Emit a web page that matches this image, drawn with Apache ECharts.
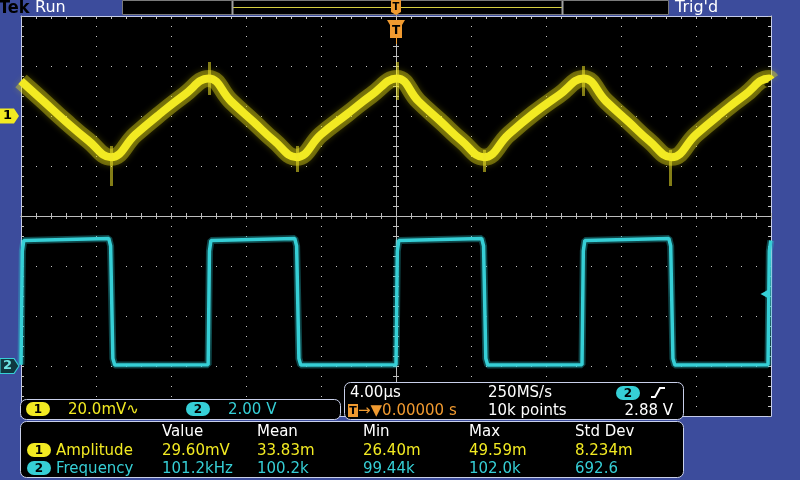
<!DOCTYPE html>
<html><head><meta charset="utf-8">
<script src="https://cdn.jsdelivr.net/npm/echarts/dist/echarts.min.js"></script>
<style>html,body{margin:0;padding:0;background:#3c4c9c;overflow:hidden}#c{width:800px;height:480px}</style>
</head><body><div id="c"></div>
<script>
// ---- data (time in µs, ch1 in mV, ch2 in V) ----
const ch1Time = [-20,-18.8,-17.6,-16.4,-15.2,-13.9,-12.6,-11.3,-10.0,-8.8,-7.6,-6.5,-5.3,-4.0,-2.6,-1.3,0.05,1.2,2.4,3.5,4.7,6.0,7.3,8.7,10.0,11.2,12.4,13.5,14.7,16.0,17.3,18.6,19.9,20];
const ch1mV   = [14.0,5.9,-2.3,-9.9,-16.5,-7.4,0.8,8.4,15.0,5.9,-2.3,-9.9,-16.5,-7.4,0.8,8.4,15.0,5.9,-2.3,-9.9,-16.5,-7.4,0.8,8.4,15.0,5.9,-2.3,-9.9,-16.5,-7.4,0.8,8.4,15.0,14.4];
const spikeTime = [-15.2,-9.95,-5.25,0.05,4.72,10.0,14.65];
const spikeLow  = [-28.0,8.4,-22.4,6.4,-22.4,8.0,-28.0];
const spikeHigh = [-12.0,21.6,-12.0,21.6,-13.6,20.0,-13.6];
const ch2Time  = [-20.00,-19.93,-19.85,-15.32,-15.22,-15.10,-15.00,-10.02,-9.95,-9.87,-5.40,-5.30,-5.18,-5.08,0.00,0.07,0.15,4.57,4.67,4.79,4.89,9.92,9.99,10.07,14.55,14.65,14.77,14.87,19.84,19.91,19.99,20.0];
const ch2Volts = [0.05,4.6,5.02,5.1,4.8,0.3,0.04,0.05,4.6,5.02,5.1,4.8,0.3,0.04,0.05,4.6,5.02,5.1,4.8,0.3,0.04,0.05,4.6,5.02,5.1,4.8,0.3,0.04,0.05,4.6,5.02,5.0];
const trigLevelV = 2.88;
const measHeaders = ['Value','Mean','Min','Max','Std Dev'];
const ch1MeasName = 'Amplitude';
const ch1Meas = ['29.60mV','33.83m','26.40m','49.59m','8.234m'];
const ch2MeasName = 'Frequency';
const ch2Meas = ['101.2kHz','100.2k','99.44k','102.0k','692.6'];
const ch1Scale = '20.0mV\u223F';
const ch2Scale = '2.00 V';
const horizScale = '4.00\u00B5s';
const sampleRate = '250MS/s';
const trigPos = '\u2192\u25BC0.00000 s';
const recordLen = '10k points';
const trigLevelText = '2.88 V';

// ---- styling ----
const FONT = "'DejaVu Sans', sans-serif";
const YEL = '#f2ea22', CYN = '#36cfd6', ORG = '#f09a30', FRAME = '#c4cbea', DOT = '#c4c4c4';
const els = [];
function txt(x, y, s, color, size, o) {
  o = o || {};
  els.push({type:'text', x:x, y:y, z:110, silent:true, style:{text:s, fill:color,
    font:(o.weight||'normal')+' '+size+'px '+(o.family||FONT),
    textAlign:o.align||'left', textVerticalAlign:'middle', verticalAlign:'middle', align:o.align||'left'}});
}
function panel(x, y, w, h) {
  els.push({type:'rect', z:100, silent:true, shape:{x:x, y:y, width:w, height:h, r:6}, style:{fill:'#000', stroke:'#c9d0ea', lineWidth:1}});
}
function badge(cx, cy, n, fill, tc) {
  els.push({type:'rect', z:105, silent:true, shape:{x:cx-12, y:cy-7, width:24, height:14, r:7}, style:{fill:fill}});
  txt(cx, cy+0.5, n, tc, 12, {weight:'bold', align:'center'});
}
// top bar
els.push({type:'rect', z:100, silent:true, shape:{x:122.5, y:0.5, width:546, height:14}, style:{fill:'#000', stroke:'#7a7a7a', lineWidth:1}});
els.push({type:'line', z:101, silent:true, shape:{x1:233, y1:7.5, x2:562, y2:7.5}, style:{stroke:'#d8d040', lineWidth:1}});
els.push({type:'line', z:101, silent:true, shape:{x1:232.5, y1:1, x2:232.5, y2:15}, style:{stroke:'#a0a0a0', lineWidth:2}});
els.push({type:'line', z:101, silent:true, shape:{x1:562.5, y1:1, x2:562.5, y2:15}, style:{stroke:'#a0a0a0', lineWidth:2}});
txt(-1, 8, 'Tek', '#000', 18, {weight:'bold', family:"'DejaVu Sans Condensed','DejaVu Sans',sans-serif"});
txt(35, 8, 'Run', '#fff', 16);
txt(675, 8, "Trig'd", '#fff', 16);
// top trigger position marker
els.push({type:'polygon', z:102, silent:true, shape:{points:[[391,0],[401,0],[401,12],[396,15],[391,12]]}, style:{fill:ORG}});
txt(396, 7, 'T', '#000', 10, {weight:'bold', align:'center'});
// graticule trigger marker
els.push({type:'polygon', z:102, silent:true, shape:{points:[[387,20],[405,20],[402,25],[402,38],[390,38],[390,25]]}, style:{fill:ORG}});
txt(396, 31, 'T', '#000', 12, {weight:'bold', align:'center'});
els.push({type:'line', z:102, silent:true, shape:{x1:396.5, y1:38, x2:396.5, y2:44}, style:{stroke:ORG, lineWidth:1}});
// panels
panel(20.5, 399.5, 320, 20);
panel(344.5, 382.5, 339, 37);
panel(20.5, 421.5, 663, 56);
// box 1
badge(38, 409, '1', YEL, '#000');
txt(68, 410, ch1Scale, YEL, 15);
badge(198, 409, '2', CYN, '#000');
txt(228, 410, ch2Scale, CYN, 15);
// box 2
txt(350, 393, horizScale, '#fff', 15);
txt(488, 393, sampleRate, '#fff', 15);
badge(628, 393, '2', CYN, '#000');
els.push({type:'polyline', z:106, silent:true, shape:{points:[[651,397],[655,397],[660,388],[665,388]]}, style:{stroke:'#fff', lineWidth:2, fill:null}});
els.push({type:'rect', z:105, silent:true, shape:{x:348, y:404, width:10, height:13}, style:{fill:ORG}});
txt(353, 411, 'T', '#000', 11, {weight:'bold', align:'center'});
txt(358, 411, trigPos, ORG, 15);
txt(488, 411, recordLen, '#fff', 15);
txt(673, 411, trigLevelText, '#fff', 15, {align:'right'});
// box 3 measurements
const colX = [162, 257, 363, 469, 575];
measHeaders.forEach((h, i) => txt(colX[i], 432, h, '#fff', 15));
badge(39, 450, '1', YEL, '#000');
txt(56, 451, ch1MeasName, YEL, 15);
ch1Meas.forEach((v, i) => txt(colX[i], 451, v, YEL, 15));
badge(39, 468, '2', CYN, '#000');
txt(56, 469, ch2MeasName, CYN, 15);
ch2Meas.forEach((v, i) => txt(colX[i], 469, v, CYN, 15));

// ---- series data built from arrays ----
const ch1Pts = ch1Time.map((t, i) => [t, ch1mV[i]]);
const ch2Pts = ch2Time.map((t, i) => [t, ch2Volts[i]]);
const spikeLines = spikeTime.map((t, i) => [{coord:[t, spikeLow[i]]}, {coord:[t, spikeHigh[i]]}]);
const tagPath = 'path://M0,0 L14,0 L19,7.5 L14,15 L0,15 Z';

const hidden = {show:false};
const CT = '#bcbcbc';
function centerTickAxis(extra) {
  return Object.assign({type:'value', min:-20, max:20, interval:4, axisLabel:hidden, splitLine:hidden,
    axisLine:{show:true, onZero:false, lineStyle:{color:CT, width:1}},
    axisTick:{show:true, inside:false, length:3, lineStyle:{color:CT}},
    minorTick:{show:true, splitNumber:5, length:3, lineStyle:{color:CT}}}, extra);
}
function centerTickYAxis(extra) {
  return Object.assign({type:'value', min:-4, max:4, interval:1, axisLabel:hidden, splitLine:hidden,
    axisLine:{show:true, onZero:false, lineStyle:{color:CT, width:1}},
    axisTick:{show:true, inside:false, length:3, lineStyle:{color:CT}},
    minorTick:{show:true, splitNumber:5, length:3, lineStyle:{color:CT}}}, extra);
}

const chart = echarts.init(document.getElementById('c'), null, {renderer:'canvas'});
chart.setOption({
  animation:false,
  backgroundColor:'#3c4c9c',
  grid:{left:21, top:16, width:750, height:400, show:true, backgroundColor:'#000', borderWidth:0},
  xAxis:[
    {type:'value', min:-20, max:20, interval:4, position:'top', axisLabel:hidden,
      axisLine:{show:true, onZero:false, lineStyle:{color:FRAME, width:1}},
      axisTick:{show:true, inside:true, length:3, lineStyle:{color:DOT}},
      minorTick:{show:true, splitNumber:5, length:3, lineStyle:{color:DOT}},
      splitLine:{show:true, lineStyle:{color:DOT, width:1, type:[1,9]}}},
    centerTickAxis({position:'bottom', offset:-200}),
    centerTickAxis({position:'top', offset:-200}),
    {type:'value', min:-20, max:20, position:'bottom', axisLabel:hidden, splitLine:hidden, axisTick:hidden,
      axisLine:{show:true, onZero:false, lineStyle:{color:FRAME, width:1}}}
  ],
  yAxis:[
    {type:'value', min:-120, max:40, interval:20, show:false, axisLine:{onZero:false}},
    {type:'value', min:-2, max:14, interval:2, show:false, axisLine:{onZero:false}},
    {type:'value', min:-4, max:4, interval:1, position:'left', axisLabel:hidden,
      axisLine:{show:true, onZero:false, lineStyle:{color:FRAME, width:1}},
      axisTick:{show:true, inside:true, length:3, lineStyle:{color:DOT}},
      minorTick:{show:true, splitNumber:5, length:3, lineStyle:{color:DOT}},
      splitLine:{show:true, lineStyle:{color:DOT, width:1, type:[1,14]}}},
    {type:'value', min:-4, max:4, interval:1, position:'right', axisLabel:hidden, splitLine:hidden,
      axisLine:{show:true, onZero:false, lineStyle:{color:FRAME, width:1}},
      axisTick:{show:true, inside:true, length:3, lineStyle:{color:DOT}},
      minorTick:{show:true, splitNumber:5, length:3, lineStyle:{color:DOT}}},
    centerTickYAxis({position:'left', offset:-375}),
    centerTickYAxis({position:'right', offset:-375})
  ],
  series:[
    {type:'line', xAxisIndex:0, yAxisIndex:0, data:ch1Pts, showSymbol:false, smooth:0.45, silent:true, z:3,
      lineStyle:{color:'rgba(230,220,25,0.4)', width:17, shadowBlur:6, shadowColor:'rgba(230,220,0,0.6)'}},
    {type:'line', xAxisIndex:0, yAxisIndex:0, data:ch1Pts, showSymbol:false, smooth:0.45, silent:true, z:4,
      lineStyle:{color:YEL, width:8},
      markLine:{silent:true, symbol:'none', label:{show:false}, lineStyle:{color:'rgba(238,228,40,0.55)', width:3, type:'solid'}, data:spikeLines},
      markPoint:{silent:true, data:[{coord:[-20, 0], symbol:tagPath, symbolSize:[19,15], symbolOffset:[-11.5,0],
        itemStyle:{color:YEL}, label:{show:true, formatter:'1', color:'#000', fontSize:13, fontWeight:'bold', fontFamily:FONT, offset:[-2,0]}}]}},
    {type:'line', xAxisIndex:0, yAxisIndex:1, data:ch2Pts, showSymbol:false, silent:true, z:3,
      lineStyle:{color:'rgba(40,200,210,0.35)', width:7}},
    {type:'line', xAxisIndex:0, yAxisIndex:1, data:ch2Pts, showSymbol:false, silent:true, z:4,
      lineStyle:{color:CYN, width:3.5},
      markPoint:{silent:true, data:[
        {coord:[-20, 0], symbol:tagPath, symbolSize:[19,15], symbolOffset:[-11.5,0],
          itemStyle:{color:'#10383f', borderColor:CYN, borderWidth:1},
          label:{show:true, formatter:'2', color:'#6fe6e6', fontSize:13, fontWeight:'bold', fontFamily:FONT, offset:[-2,0]}},
        {coord:[20, trigLevelV], symbol:'path://M10,0 L0,5 L10,10 Z', symbolSize:[9,10], symbolOffset:[-6,0],
          itemStyle:{color:CYN}, label:{show:false}}
      ]}}
  ],
  graphic:{elements:els}
});
</script>
</body></html>
